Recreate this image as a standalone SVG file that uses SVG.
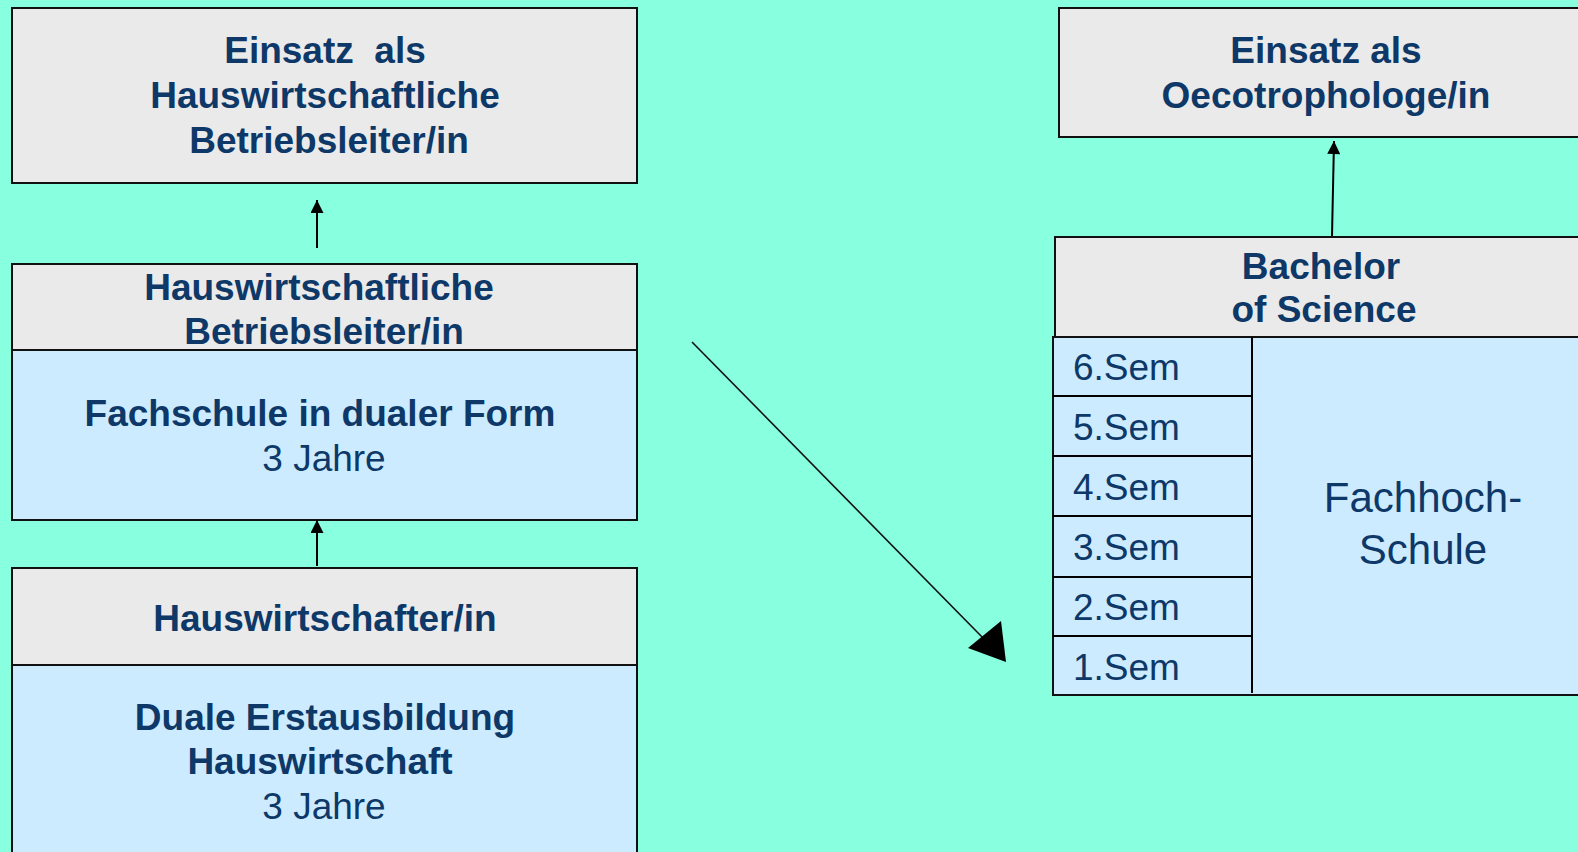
<svg xmlns="http://www.w3.org/2000/svg" width="1578" height="852" viewBox="0 0 1578 852">
<defs>
<style>
.g{fill:#EAEAEA;stroke:#111;stroke-width:2}
.b{fill:#CCEBFF;stroke:#111;stroke-width:2}
.t{font-family:"Liberation Sans",Arial,sans-serif;fill:#0D3868;font-size:37px;text-anchor:middle}
.bd{font-weight:bold}
.s{font-family:"Liberation Sans",Arial,sans-serif;fill:#0D3868;font-size:37px}
.c{stroke:#000;stroke-width:2;fill:none}
</style>
<marker id="ahs" viewBox="0 0 10 10" refX="10" refY="5" markerWidth="17" markerHeight="13" orient="auto" markerUnits="userSpaceOnUse">
<path d="M0,0 L10,5 L0,10 z" fill="#000"/>
</marker>
</defs>
<rect width="1578" height="852" fill="#88FFDE"/>

<g id="einsatz-hbl">
<rect class="g" x="12" y="8" width="625" height="175"/>
<text class="t bd" x="325" y="63" xml:space="preserve" style="white-space:pre">Einsatz  als</text>
<text class="t bd" x="325" y="108">Hauswirtschaftliche</text>
<text class="t bd" x="329" y="153">Betriebsleiter/in</text>
</g>

<g id="hbl">
<rect class="b" x="12" y="264" width="625" height="256"/>
<rect class="g" x="12" y="264" width="625" height="86"/>
<text class="t bd" x="319" y="300">Hauswirtschaftliche</text>
<text class="t bd" x="324" y="344">Betriebsleiter/in</text>
<text class="t bd" x="320" y="426">Fachschule in dualer Form</text>
<text class="t" x="324" y="471">3 Jahre</text>
</g>

<g id="hw">
<rect class="b" x="12" y="568" width="625" height="300"/>
<rect class="g" x="12" y="568" width="625" height="97"/>
<text class="t bd" x="325" y="631">Hauswirtschafter/in</text>
<text class="t bd" x="325" y="730">Duale Erstausbildung</text>
<text class="t bd" x="320" y="774">Hauswirtschaft</text>
<text class="t" x="324" y="819">3 Jahre</text>
</g>

<g id="einsatz-oe">
<rect class="g" x="1059" y="8" width="540" height="129"/>
<text class="t bd" x="1326" y="63">Einsatz als</text>
<text class="t bd" x="1326" y="108">Oecotrophologe/in</text>
</g>

<g id="bachelor">
<rect class="g" x="1055" y="237" width="540" height="100"/>
<text class="t bd" x="1321" y="279">Bachelor</text>
<text class="t bd" x="1324" y="322">of Science</text>
<rect class="b" x="1053" y="337" width="545" height="358"/>
<line class="c" x1="1252" y1="337" x2="1252" y2="693"/>
<line class="c" x1="1053" y1="396" x2="1252" y2="396"/>
<line class="c" x1="1053" y1="456" x2="1252" y2="456"/>
<line class="c" x1="1053" y1="516" x2="1252" y2="516"/>
<line class="c" x1="1053" y1="577" x2="1252" y2="577"/>
<line class="c" x1="1053" y1="636" x2="1252" y2="636"/>
<text class="s" x="1073" y="380">6.Sem</text>
<text class="s" x="1073" y="440">5.Sem</text>
<text class="s" x="1073" y="500">4.Sem</text>
<text class="s" x="1073" y="560">3.Sem</text>
<text class="s" x="1073" y="620">2.Sem</text>
<text class="s" x="1073" y="680">1.Sem</text>
<text class="t" x="1423" y="512" style="font-size:42px">Fachhoch-</text>
<text class="t" x="1423" y="564" style="font-size:42px">Schule</text>
</g>

<g id="connectors">
<line class="c" x1="317" y1="248" x2="317" y2="200" marker-end="url(#ahs)"/>
<line class="c" x1="317" y1="566" x2="317" y2="520" marker-end="url(#ahs)"/>
<line class="c" x1="1332" y1="236" x2="1334" y2="141" marker-end="url(#ahs)"/>
<line x1="692" y1="342" x2="985" y2="640" stroke="#111" stroke-width="1.6"/>
<polygon points="1006,662 968,648 1001,621" fill="#000"/>
</g>
</svg>
